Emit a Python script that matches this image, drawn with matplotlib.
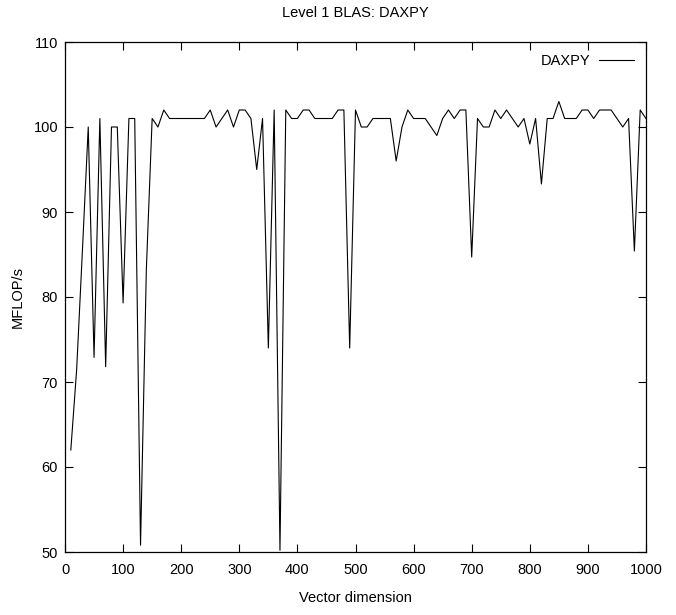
import numpy as np
import matplotlib
matplotlib.use('Agg')
import matplotlib.pyplot as plt

plt.rcParams['font.family'] = ['Liberation Sans', 'DejaVu Sans']

# vector dimension 10..1000, step 10
dims = np.arange(10, 1001, 10)
mflops = [
    62.0, 71.4, 85.5, 100, 72.9, 101, 71.8, 100, 100, 79.3,      # 10-100
    101, 101, 50.8, 83.2, 101, 100, 102, 101, 101, 101,          # 110-200
    101, 101, 101, 101, 102, 100, 101, 102, 100, 102,            # 210-300
    102, 101, 95, 101, 74, 102, 50.2, 102, 101, 101,             # 310-400
    102, 102, 101, 101, 101, 101, 102, 102, 74, 102,             # 410-500
    100, 100, 101, 101, 101, 101, 96, 100, 102, 101,             # 510-600
    101, 101, 100, 99, 101, 102, 101, 102, 102, 84.7,            # 610-700
    101, 100, 100, 102, 101, 102, 101, 100, 101, 98,             # 710-800
    101, 93.3, 101, 101, 103, 101, 101, 101, 102, 102,           # 810-900
    101, 102, 102, 102, 101, 100, 101, 85.4, 102, 101,           # 910-1000
]

fig = plt.figure(figsize=(6.76, 6.15), dpi=100)
ax = fig.add_axes([65/676, 1 - 552/615, 581/676, 510/615])

ax.plot(dims, mflops, color='black', linewidth=0.8, label='DAXPY')

ax.set_xlim(0, 1000)
ax.set_ylim(50, 110)
ax.set_xticks(np.arange(0, 1001, 100))
ax.set_yticks(np.arange(50, 111, 10))
ax.tick_params(direction='in', length=6, width=0.8, top=True, right=True,
               labelsize=10.5)
ax.tick_params(axis='x', pad=8)
ax.tick_params(axis='y', pad=5)
for s in ax.spines.values():
    s.set_linewidth(0.9)

ax.set_xlabel('Vector dimension', fontsize=10.5, labelpad=10)
ax.set_ylabel('MFLOP/s', fontsize=10.5, labelpad=6)
ax.set_title('Level 1 BLAS: DAXPY', fontsize=10.5, pad=18)

ax.legend(loc='upper right', frameon=False, markerfirst=False, fontsize=10.5,
          handlelength=2.4, handletextpad=0.6, borderaxespad=0.4)

plt.savefig('out.png', dpi=100)
